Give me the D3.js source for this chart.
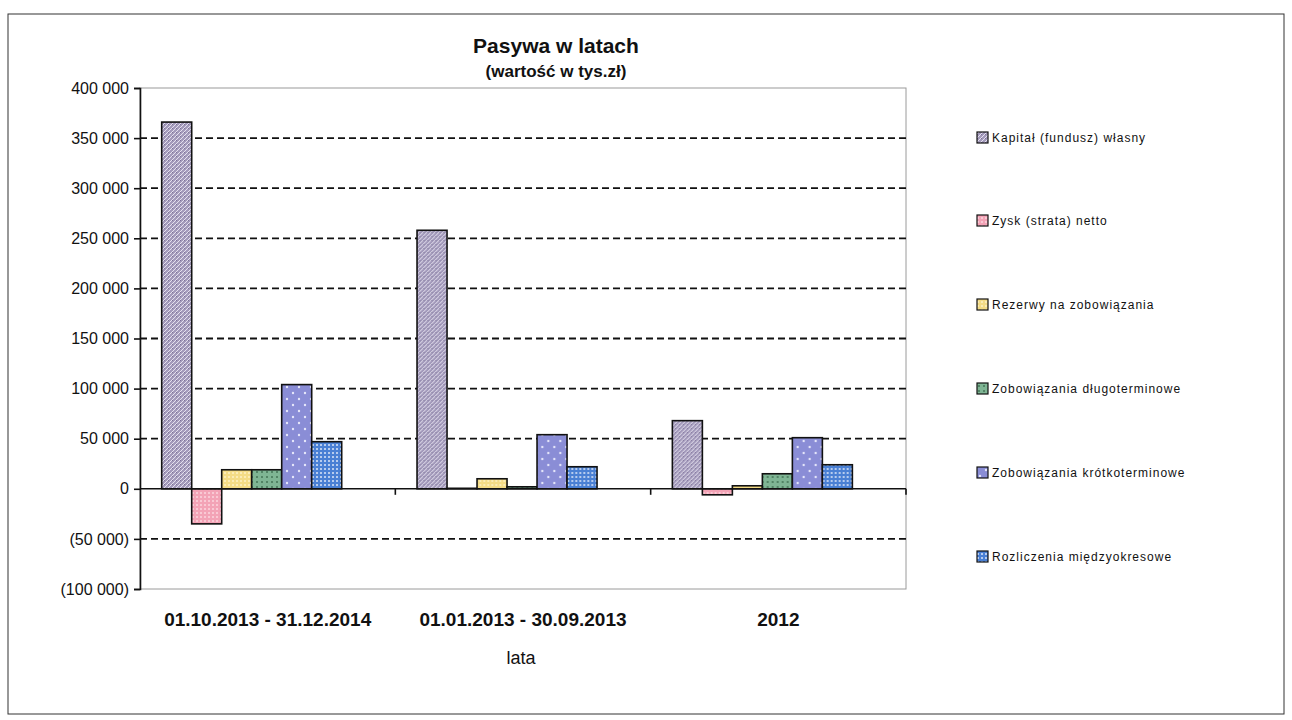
<!DOCTYPE html>
<html>
<head>
<meta charset="utf-8">
<script src="https://cdn.jsdelivr.net/npm/d3@7"></script>
<style>
  body { margin: 0; background: #fff; }
  svg text { font-family: "Liberation Sans", Arial, sans-serif; fill: #111; }
</style>
</head>
<body>
<svg id="chart" width="1292" height="720"></svg>
<script>
// ---- data ----
const categories = ["01.10.2013 - 31.12.2014", "01.01.2013 - 30.09.2013", "2012"];
const seriesNames = [
  "Kapitał (fundusz) własny",
  "Zysk (strata) netto",
  "Rezerwy na zobowiązania",
  "Zobowiązania długoterminowe",
  "Zobowiązania krótkoterminowe",
  "Rozliczenia międzyokresowe"
];
const kapital = [366000, 258000, 68000];
const zysk = [-35000, 500, -6000];
const rezerwy = [19000, 10000, 3000];
const dlugo = [19000, 2000, 15000];
const krotko = [104000, 54000, 51000];
const rozliczenia = [47000, 22000, 24000];
const seriesValues = [kapital, zysk, rezerwy, dlugo, krotko, rozliczenia];
const yTicks = [400000, 350000, 300000, 250000, 200000, 150000, 100000, 50000, 0, -50000, -100000];

// fill styles: base colour + dot colour per series
const fills = [
  { base: "#a39abb", dot: "#e4e0ee", kind: "cross" },
  { base: "#f3a3b6", dot: "#fde3e8", kind: "grid" },
  { base: "#f4dc86", dot: "#fff6d6", kind: "grid" },
  { base: "#7fb594", dot: "#2e5a3e", kind: "dots" },
  { base: "#8a8dd6", dot: "#e6e6fa", kind: "sparse" },
  { base: "#4a80d4", dot: "#ffffff", kind: "grid" }
];

const svg = d3.select("#chart");
const fmt = v => {
  const s = d3.format(",")(Math.abs(v)).replace(/,/g, " ");
  return v < 0 ? `(${s})` : s;
};

// ---- patterns ----
const defs = svg.append("defs");
fills.forEach((f, i) => {
  const p = defs.append("pattern")
    .attr("id", "pat" + i)
    .attr("patternUnits", "userSpaceOnUse");
  if (f.kind === "cross") {
    p.attr("width", 4).attr("height", 4);
    p.append("rect").attr("width", 4).attr("height", 4).attr("fill", f.base);
    p.append("path").attr("d", "M0,4 L4,0 M-1,1 L1,-1 M3,5 L5,3")
      .attr("stroke", f.dot).attr("stroke-width", 1);
    p.append("rect").attr("x", 0).attr("y", 0).attr("width", 1).attr("height", 1)
      .attr("fill", "#7d7298");
  } else if (f.kind === "grid") {
    p.attr("width", 4).attr("height", 4);
    p.append("rect").attr("width", 4).attr("height", 4).attr("fill", f.base);
    p.append("rect").attr("width", 2).attr("height", 2).attr("fill", f.dot).attr("opacity", 0.6);
  } else if (f.kind === "dots") {
    p.attr("width", 5).attr("height", 5);
    p.append("rect").attr("width", 5).attr("height", 5).attr("fill", f.base);
    p.append("rect").attr("x", 1).attr("y", 1).attr("width", 2).attr("height", 2).attr("fill", f.dot).attr("opacity", 0.55);
  } else {
    p.attr("width", 12).attr("height", 12);
    p.append("rect").attr("width", 12).attr("height", 12).attr("fill", f.base);
    p.append("circle").attr("cx", 3).attr("cy", 3).attr("r", 1.2).attr("fill", f.dot);
    p.append("circle").attr("cx", 9).attr("cy", 9).attr("r", 1.2).attr("fill", f.dot);
  }
});

// ---- outer frame ----
svg.append("rect")
  .attr("x", 8).attr("y", 14).attr("width", 1276).attr("height", 700)
  .attr("fill", "none").attr("stroke", "#333").attr("stroke-width", 1);

// ---- scales ----
const plot = { left: 140, right: 906, top: 88, bottom: 589 };
const y = d3.scaleLinear().domain([-100000, 400000]).range([plot.bottom, plot.top]);
const x0 = d3.scaleBand().domain(categories).range([plot.left, plot.right]).padding(0);
const bw = x0.bandwidth();
const x1 = d3.scaleBand().domain(seriesNames).range([bw * 0.085, bw * 0.085 + 180]).padding(0);

// plot area border (grey)
svg.append("rect")
  .attr("x", plot.left).attr("y", plot.top)
  .attr("width", plot.right - plot.left).attr("height", plot.bottom - plot.top)
  .attr("fill", "none").attr("stroke", "#9a9a9a").attr("stroke-width", 1);

// dashed gridlines
svg.append("g").selectAll("line")
  .data(yTicks.filter(t => t !== 0 && t !== 400000 && t !== -100000))
  .join("line")
  .attr("x1", plot.left).attr("x2", plot.right)
  .attr("y1", d => y(d)).attr("y2", d => y(d))
  .attr("stroke", "#111").attr("stroke-width", 1.8)
  .attr("stroke-dasharray", "7,4");

// y axis
const yAxis = svg.append("g")
  .attr("transform", `translate(${plot.left},0)`)
  .call(d3.axisLeft(y).tickValues(yTicks).tickFormat(fmt).tickSize(6).tickPadding(5));
yAxis.select(".domain").attr("stroke", "#111").attr("stroke-width", 1.6);
yAxis.selectAll(".tick line").attr("stroke", "#111").attr("stroke-width", 1.6);
yAxis.selectAll(".tick text").style("font-size", "16px").attr("fill", "#111");

// bars
const groups = svg.append("g").selectAll("g")
  .data(categories)
  .join("g")
  .attr("transform", d => `translate(${x0(d)},0)`);

groups.selectAll("rect")
  .data((c, ci) => seriesNames.map((s, si) => ({ s, si, v: seriesValues[si][ci] })))
  .join("rect")
  .attr("x", d => x1(d.s))
  .attr("width", x1.bandwidth())
  .attr("y", d => y(Math.max(0, d.v)))
  .attr("height", d => Math.abs(y(d.v) - y(0)))
  .attr("fill", d => `url(#pat${d.si})`)
  .attr("stroke", "#111")
  .attr("stroke-width", 1.6);

// category axis at zero
const xAxis = svg.append("g")
  .attr("transform", `translate(0,${y(0)})`);
xAxis.append("line")
  .attr("x1", plot.left).attr("x2", plot.right)
  .attr("stroke", "#111").attr("stroke-width", 1.6);
xAxis.selectAll(".sep")
  .data(categories.slice(1).map(c => x0(c)).concat([plot.right]))
  .join("line")
  .attr("class", "sep")
  .attr("x1", d => d).attr("x2", d => d)
  .attr("y1", 0).attr("y2", 6)
  .attr("stroke", "#111").attr("stroke-width", 1.6);

// category labels
svg.append("g").selectAll("text")
  .data(categories)
  .join("text")
  .attr("x", d => x0(d) + bw / 2)
  .attr("y", 626)
  .attr("text-anchor", "middle")
  .style("font-size", "19px")
  .style("font-weight", "bold")
  .text(d => d);

svg.append("text")
  .attr("x", 521).attr("y", 664)
  .attr("text-anchor", "middle")
  .style("font-size", "18px")
  .text("lata");

// title
svg.append("text")
  .attr("x", 556).attr("y", 53)
  .attr("text-anchor", "middle")
  .style("font-size", "21px").style("font-weight", "bold")
  .text("Pasywa w latach");
svg.append("text")
  .attr("x", 556).attr("y", 77)
  .attr("text-anchor", "middle")
  .style("font-size", "17px").style("font-weight", "bold")
  .text("(wartość w tys.zł)");

// legend
const legendY = [138, 221, 305, 389, 473, 557];
const legend = svg.append("g").selectAll("g")
  .data(seriesNames)
  .join("g")
  .attr("transform", (d, i) => `translate(977,${legendY[i]})`);
legend.append("rect")
  .attr("x", 0).attr("y", -6).attr("width", 11).attr("height", 11)
  .attr("fill", (d, i) => `url(#pat${i})`)
  .attr("stroke", "#111").attr("stroke-width", 1.2);
legend.append("text")
  .attr("x", 15).attr("y", 4)
  .style("font-size", "12px")
  .style("letter-spacing", "1px")
  .text(d => d);
</script>
</body>
</html>
